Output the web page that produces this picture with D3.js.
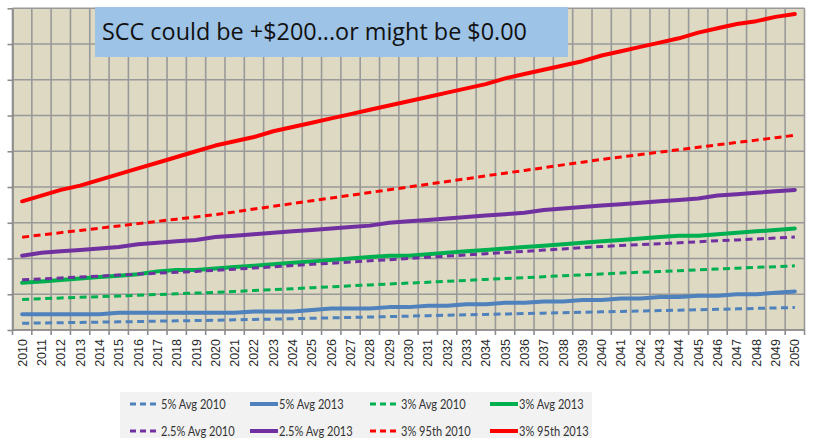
<!DOCTYPE html>
<html>
<head>
<meta charset="utf-8">
<script src="https://cdn.jsdelivr.net/npm/d3@7"></script>
<style>
  html, body { margin: 0; padding: 0; background: #ffffff; }
  svg { display: block; }
</style>
</head>
<body>
<svg id="chart" width="813" height="438"></svg>
<script>
const years = d3.range(2010, 2051);
const yTicks = [0, 25, 50, 75, 100, 125, 150, 175, 200, 225];

const avg5_2010 = [4.7,4.9,5.1,5.3,5.5,5.7,5.9,6.2,6.4,6.6,6.8,7.1,7.4,7.6,7.9,8.2,8.5,8.8,9.1,9.4,9.7,10.0,10.3,10.6,10.9,11.2,11.5,11.8,12.1,12.4,12.7,13.0,13.3,13.6,13.9,14.2,14.5,14.8,15.1,15.4,15.7];
const avg5_2013 = [11,11,11,11,11,12,12,12,12,12,12,12,13,13,13,14,15,15,15,16,16,17,17,18,18,19,19,20,20,21,21,22,22,23,23,24,24,25,25,26,27];
const avg3_2010 = [21.4,21.9,22.4,22.9,23.3,23.8,24.3,24.8,25.3,25.8,26.3,27.0,27.6,28.3,28.9,29.6,30.2,30.9,31.5,32.2,32.8,33.4,34.1,34.7,35.4,36.0,36.6,37.3,37.9,38.6,39.2,39.8,40.4,40.9,41.5,42.1,42.7,43.2,43.8,44.3,44.9];
const avg3_2013 = [33,34,35,36,37,38,39,41,42,42,43,44,45,46,47,48,49,50,51,52,52,53,54,55,56,57,58,59,60,61,62,63,64,65,66,66,67,68,69,70,71];
const avg25_2010 = [35.1,35.7,36.4,37.1,37.7,38.4,39.1,39.7,40.4,41.0,41.7,42.5,43.4,44.2,45.1,45.9,46.7,47.5,48.4,49.2,50.0,50.8,51.7,52.5,53.4,54.2,55.0,55.9,56.7,57.6,58.4,59.1,59.7,60.4,61.0,61.7,62.4,63.0,63.7,64.3,65.0];
const avg25_2013 = [52,54,55,56,57,58,60,61,62,63,65,66,67,68,69,70,71,72,73,75,76,77,78,79,80,81,82,84,85,86,87,88,89,90,91,92,94,95,96,97,98];
const p95_2010 = [64.9,66.5,68.1,69.6,71.2,72.8,74.4,76.0,77.5,79.1,80.7,82.6,84.6,86.5,88.5,90.4,92.3,94.2,96.2,98.1,100.0,101.9,103.9,105.8,107.8,109.7,111.6,113.5,115.5,117.4,119.3,121.0,122.7,124.4,126.1,127.8,129.5,131.2,132.8,134.5,136.2];
const p95_2013 = [90,94,98,101,105,109,113,117,121,125,129,132,135,139,142,145,148,151,154,157,160,163,166,169,172,176,179,182,185,188,192,195,198,201,204,208,211,214,216,219,221];

const seriesNames = ["5% Avg 2010","5% Avg 2013","3% Avg 2010","3% Avg 2013","2.5% Avg 2010","2.5% Avg 2013","3% 95th 2010","3% 95th 2013"];
const seriesValues = [avg5_2010, avg5_2013, avg3_2010, avg3_2013, avg25_2010, avg25_2013, p95_2010, p95_2013];
const seriesColors = ["#4F81BD","#4F81BD","#00B050","#00B050","#7030A0","#7030A0","#FF0000","#FF0000"];
const seriesDashed = [true,false,true,false,true,false,true,false];
const titleText = "SCC could be +$200...or might be $0.00";

const svg = d3.select("#chart");
const pL = 12.5, pR = 804.5, pT = 8.3, pB = 330;

const x = d3.scaleBand().domain(years).range([pL, pR]).paddingInner(0).paddingOuter(0);
const y = d3.scaleLinear().domain([0, 225]).range([pB, pT]);

svg.append("rect").attr("x", pL).attr("y", pT).attr("width", pR - pL).attr("height", pB - pT)
  .attr("fill", "#DDD9C3");

const grid = svg.append("g");
grid.selectAll("line.h").data(yTicks).join("line")
  .attr("x1", pL).attr("x2", pR)
  .attr("y1", d => y(d)).attr("y2", d => y(d))
  .attr("stroke", "#999999").attr("stroke-width", 1.6);
const bounds = years.map(d => x(d)).concat([pR]);
grid.selectAll("line.v").data(bounds).join("line")
  .attr("x1", d => d).attr("x2", d => d)
  .attr("y1", pT).attr("y2", pB)
  .attr("stroke", "#999999").attr("stroke-width", 1.6);

const yAxis = d3.axisLeft(y).tickValues(yTicks).tickSize(5).tickSizeOuter(0).tickFormat("");
svg.append("g").attr("transform", `translate(${pL},0)`).call(yAxis)
  .call(g => g.selectAll("line, path").attr("stroke", "#8C8C8C").attr("stroke-width", 1.6));

svg.append("g").selectAll("line").data(bounds).join("line")
  .attr("x1", d => d).attr("x2", d => d).attr("y1", pB).attr("y2", pB + 5)
  .attr("stroke", "#8C8C8C").attr("stroke-width", 1.6);
svg.append("line").attr("x1", pL).attr("x2", pR).attr("y1", pB).attr("y2", pB)
  .attr("stroke", "#8C8C8C").attr("stroke-width", 1.6);

svg.append("g").selectAll("text").data(years).join("text")
  .attr("transform", d => `translate(${x(d) + x.bandwidth() / 2 + 4.5},${339}) rotate(-90)`)
  .attr("text-anchor", "end")
  .attr("font-family", "Liberation Sans, Arial, sans-serif")
  .attr("font-size", 12.5)
  .attr("fill", "#2a2a2a")
  .text(d => d);

const line = d3.line().x((d, i) => x(years[i]) + x.bandwidth() / 2).y(d => y(d));
const lines = svg.append("g");
seriesValues.forEach((vals, k) => {
  lines.append("path").datum(vals)
    .attr("d", line)
    .attr("fill", "none")
    .attr("stroke", seriesColors[k])
    .attr("stroke-width", seriesDashed[k] ? 3 : 4)
    .attr("stroke-linejoin", "round")
    .attr("stroke-linecap", seriesDashed[k] ? "butt" : "round")
    .attr("stroke-dasharray", seriesDashed[k] ? "7,4.5" : null);
});

svg.append("rect").attr("x", 95).attr("y", 7).attr("width", 473).attr("height", 50).attr("fill", "#9DC3E6");
svg.append("text").attr("x", 102).attr("y", 40)
  .attr("font-family", "Open Sans, Lato, sans-serif").attr("font-size", 24).attr("fill", "#111")
  .attr("textLength", 425).attr("lengthAdjust", "spacingAndGlyphs")
  .text(titleText);

const lg = svg.append("g");
lg.append("rect").attr("x", 120).attr("y", 392).attr("width", 472).attr("height", 46).attr("fill", "#F2F2F2");
const colX = [130, 250, 370, 490];
const rowY = [404, 431];
seriesNames.forEach((name, k) => {
  const cx = colX[k % 4], cy = rowY[Math.floor(k / 4)];
  lg.append("line").attr("x1", cx).attr("x2", cx + 28).attr("y1", cy).attr("y2", cy)
    .attr("stroke", seriesColors[k]).attr("stroke-width", seriesDashed[k] ? 3 : 4)
    .attr("stroke-dasharray", seriesDashed[k] ? "6,4" : null);
  const t = lg.append("text").attr("x", cx + (seriesDashed[k] ? 31 : 29)).attr("y", cy + 5)
    .attr("font-family", "Lato, Open Sans, sans-serif").attr("font-size", 14).attr("fill", "#333")
    .text(name);
  const w = t.node().getComputedTextLength();
  t.attr("textLength", w * 0.79).attr("lengthAdjust", "spacingAndGlyphs");
});
</script>
</body>
</html>
